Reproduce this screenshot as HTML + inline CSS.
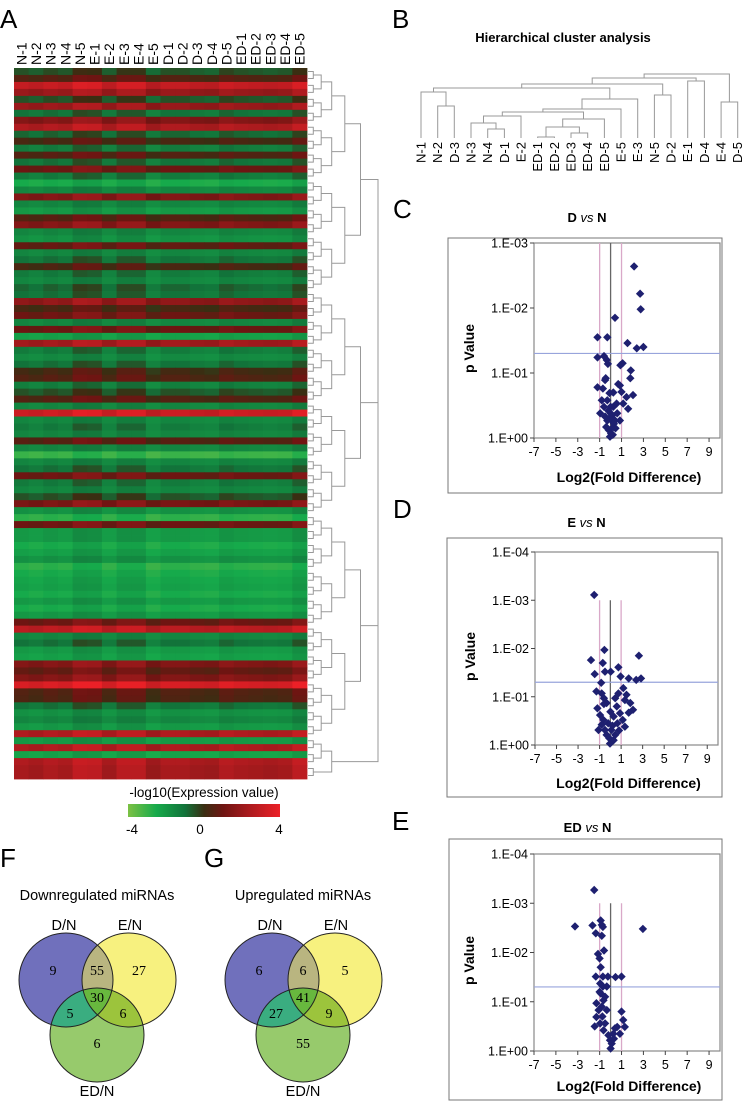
<!DOCTYPE html>
<html><head><meta charset="utf-8"><style>
html,body{margin:0;padding:0;background:#fff}
svg{display:block;font-family:"Liberation Sans",sans-serif}
.ser{font-family:"Liberation Serif",serif}
</style></head><body>
<svg id="fig" width="743" height="1112" viewBox="0 0 743 1112">
<g id="heat"></g>
<g id="hdendro" stroke="#999" stroke-width="1" fill="none"></g>
<g id="bdendro" stroke="#999" stroke-width="1" fill="none"></g>
<g id="volc"></g>
<g id="venn"></g>
</svg>
<script>
const NS="http://www.w3.org/2000/svg";
function mk(p,t,a,txt){const e=document.createElementNS(NS,t);for(const k in a)e.setAttribute(k,a[k]);if(txt!==undefined)e.textContent=txt;p.appendChild(e);return e;}

// ---------- DATA ----------
const samples=["N-1","N-2","N-3","N-4","N-5","E-1","E-2","E-3","E-4","E-5","D-1","D-2","D-3","D-4","D-5","ED-1","ED-2","ED-3","ED-4","ED-5"];
const colOffsets=[0,-0.2,0.1,-0.1,0.6,0.5,-0.2,0.4,0.4,-0.4,0,0,-0.2,-0.3,0.2,0,-0.1,-0.2,-0.1,0.5];
const rowValues=[-0.5,0.5,3,2,-0.5,2,-1,1.5,2.5,-0.8,0.3,-1.2,0.5,-1,1,-1.2,-2.5,-1.5,1.5,-1.5,-2,0.5,1.5,-1.5,-1.8,0.8,-1.5,-1,0.3,-1.2,-1.5,-0.8,-1,1.8,0.3,1,-1.5,1,-2.2,2.2,-1.2,-1.6,-1,0.2,0.5,-1.3,-0.5,0.5,-1.5,3.2,-1.5,-1.2,-1.5,0.6,-1.5,-3,-1.5,-1,1,-1.2,-1.5,-0.5,1.3,-1.8,-2.8,1,-2,-2,-2.5,-2.2,-1.8,-2.8,-2.5,-2.3,-2.2,-2.5,-2,-2.5,-2,1,2.8,-1.5,-1,-2,-2.2,1.5,0.8,1.5,3.5,0.5,0.4,-1,-1.8,-1.5,-2,2.5,-2,2.5,-2.3,2.5,2.3,2.3];

const clusterLeaves=["N-1","N-2","D-3","N-3","N-4","D-1","E-2","ED-1","ED-2","ED-3","ED-4","ED-5","E-5","E-3","N-5","D-2","E-1","D-4","E-4","D-5"];
const clusterMerges=[[1,2,106],[0,20,92],[4,5,129],[3,22,123],[23,6,116],[7,8,137],[9,10,133],[25,26,127],[27,11,119],[24,28,112],[29,12,109],[30,13,99],[21,31,88],[14,15,95],[32,33,84],[16,17,81],[34,35,78],[18,19,102],[36,37,74]];

const volcC_x=[2.15,2.7,2.75,0.4,-1.2,-0.3,1.55,2.4,3.0,-1.2,-0.6,-0.35,-0.25,1.1,0.9,1.85,1.8,-1.2,-0.7,-0.5,-0.45,0.25,0.7,0.85,1.0,1.45,2.05,1.6,-0.1,-0.3,0.25,0.55,-0.95,-0.6,0,0.1,0.6,0.85,-0.3,-0.15,0.05,-0.05,0.25,-0.4,0.4,1.15,-0.8,0,-0.2,0.15,0.3,-0.1,0.45,-0.5,0.2];
const volcC_v=[2.64,2.22,1.98,1.85,1.55,1.55,1.46,1.38,1.40,1.24,1.26,1.2,1.14,1.15,1.12,1.04,0.92,0.78,0.76,0.89,0.92,0.70,0.83,0.81,0.71,0.63,0.66,0.45,0.69,0.58,0.48,0.53,0.38,0.48,0.38,0.27,0.38,0.27,0.27,0.12,0.07,0.02,0.17,0.17,0.27,0.53,0.58,0.48,0.42,0.35,0.22,0.30,0.15,0.33,0.05];
const volcD_x=[-1.5,-0.55,-1.8,-0.7,-1.45,-0.5,0.03,0.75,0.95,1.7,2.65,2.4,2.85,-0.85,-1.3,-0.8,-0.6,-0.35,0.45,0.75,1.2,1.5,1.35,1.85,2.1,1.7,-1.2,-0.95,-0.65,-0.8,-0.5,0,0.3,0.6,0.9,1.15,0.65,1.35,0.1,0.45,-0.1,-0.03,-0.35,0.3,-1.1,-0.2,0.2,0.8,-0.6];
const volcD_v=[3.11,1.97,1.76,1.70,1.47,1.52,1.52,1.61,1.42,1.38,1.85,1.35,1.38,1.29,1.11,1.07,0.97,0.87,0.97,1.07,1.18,1.04,0.93,0.87,0.73,0.67,0.76,0.62,0.52,0.42,0.31,0.69,0.59,0.8,0.66,0.52,0.45,0.38,0.31,0.21,0.14,0.03,0.21,0.10,0.31,0.45,0.40,0.30,0.85];
const volcE_x=[-1.5,-3.25,-1.65,-0.9,-0.8,-0.7,-1.35,-0.8,2.95,-1.15,-0.6,-1.0,-0.9,-1.35,-0.7,-0.25,0.45,1.0,-0.95,-0.7,-0.35,-0.9,-0.5,-1.3,-0.8,-0.35,-1.3,-0.95,-1.45,-0.5,1.0,1.15,1.3,0.6,0.85,0.25,-0.05,0,-0.2,-0.65,0.4,-1.1,-0.65,-1.0,-0.75,0.1,0.3];
const volcE_v=[3.27,2.53,2.55,2.65,2.56,2.52,2.39,2.34,2.48,1.97,2.04,1.88,1.70,1.51,1.51,1.51,1.50,1.51,1.37,1.31,1.31,1.17,1.10,0.97,0.90,0.83,0.69,0.56,0.50,0.56,0.80,0.63,0.49,0.49,0.35,0.35,0.22,0.05,0.32,0.42,0.46,0.83,1.03,1.2,0.7,0.15,0.25];

const vennF=["9","55","27","30","5","6","6"];
const vennG=["6","6","5","41","27","9","55"];

const svg=document.getElementById('fig');

const cStops=[[-4,[124,193,68]],[-2.5,[22,170,75]],[-1,[18,115,58]],[0,[58,46,18]],[1,[110,21,18]],[2.5,[176,27,31]],[4,[236,32,39]]];
function col(v){v=Math.max(-4,Math.min(4,v));for(let i=0;i<cStops.length-1;i++){const a=cStops[i],b=cStops[i+1];if(v<=b[0]){const t=(v-a[0])/(b[0]-a[0]);return "rgb("+a[1].map((c,j)=>Math.round(c+(b[1][j]-c)*t)).join(",")+")";}}return "rgb(236,32,39)";}

function txt(x,y,s,size,opt,name){const e=mk(svg,'text',Object.assign({x:x,y:y,'font-size':size,fill:'#000'},opt||{}),s);return e;}
txt(0,28,"A",26,{},"panel-label-a");
txt(392,28,"B",26,{},"panel-label-b");
txt(393,218,"C",26,{},"panel-label-c");
txt(393,518,"D",26,{},"panel-label-d");
txt(392,830,"E",26,{},"panel-label-e");
txt(0,867,"F",26,{},"panel-label-f");
txt(204,867,"G",26,{},"panel-label-g");

// ---------- heatmap ----------
const heat=document.getElementById('heat');
const hx0=14,hx1=307,hy0=68,hy1=779;
const cw=(hx1-hx0)/samples.length, rh=(hy1-hy0)/rowValues.length;
rowValues.forEach((rv,r)=>{samples.forEach((s,c)=>{
  const e=mk(heat,'rect',{x:(hx0+c*cw).toFixed(2),y:(hy0+r*rh).toFixed(2),width:(cw+0.4).toFixed(2),height:(rh+0.4).toFixed(2),fill:col(rv+colOffsets[c]*(rv>-1.5?1:0.6))});
  
  
});});
samples.forEach((s,c)=>{const x=hx0+(c+0.5)*cw+5;const e=mk(heat,'text',{x:0,y:0,transform:`translate(${x.toFixed(1)},65) rotate(-90)`,'font-size':14,fill:'#000'},s);
  
  });
const defs=mk(svg,'defs',{});
const lg=mk(defs,'linearGradient',{id:'cb',x1:0,x2:1,y1:0,y2:0});
for(let v=-4;v<=4;v+=0.5)mk(lg,'stop',{offset:((v+4)/8),'stop-color':col(v)});
const cbar=mk(heat,'rect',{x:128,y:804,width:152,height:13,fill:'url(#cb)'});

txt(204,797,"-log10(Expression value)",13.5,{'text-anchor':'middle'},"color-scale-title");
txt(132,834,"-4",13.5,{'text-anchor':'middle'},"color-scale-min");
txt(200,834,"0",13.5,{'text-anchor':'middle'},"color-scale-mid");
txt(279,834,"4",13.5,{'text-anchor':'middle'},"color-scale-max");

const hd=document.getElementById('hdendro');
let nodes=rowValues.map((v,i)=>({y:hy0+(i+0.5)*rh,x:308}));
let level=0;
while(nodes.length>1){level++;const nx=308+Math.min(70,level*level*1.3+level*4);const next=[];
  for(let i=0;i<nodes.length;i+=2){if(i+1<nodes.length){const a=nodes[i],b=nodes[i+1];
    const p=mk(hd,'path',{d:`M${a.x},${a.y.toFixed(1)}H${nx}V${b.y.toFixed(1)}H${b.x}`});
    
    next.push({y:(a.y+b.y)/2,x:nx});}else next.push(nodes[i]);}
  nodes=next;}

// ---------- cluster dendrogram B ----------
txt(563,42,"Hierarchical cluster analysis",13,{'text-anchor':'middle','font-weight':'bold'},"cluster-title");
const bd=document.getElementById('bdendro');
const bx0=421,bdx=16.67,leafY=138;
const bx=i=>bx0+i*bdx;
const bnodes=clusterLeaves.map((s,i)=>({x:bx(i),y:leafY}));
clusterLeaves.forEach((s,i)=>{const e=mk(svg,'text',{x:0,y:0,transform:`translate(${(bx(i)+4.5).toFixed(1)},142) rotate(-90)`,'font-size':13,'text-anchor':'end',fill:'#000'},s);
  
  });
clusterMerges.forEach(m=>{const a=bnodes[m[0]],b=bnodes[m[1]],h=m[2];
  const p=mk(bd,'path',{d:`M${a.x.toFixed(1)},${a.y}V${h}H${b.x.toFixed(1)}V${b.y}`});
  
  bnodes.push({x:(a.x+b.x)/2,y:h});});

// ---------- volcano plots ----------
const volc=document.getElementById('volc');
function volcano(cfg){
  const g=mk(volc,'g',{});
  const box=mk(g,'rect',{x:cfg.box[0],y:cfg.box[1],width:cfg.box[2]-cfg.box[0],height:cfg.box[3]-cfg.box[1],fill:'#fff',stroke:'#777','stroke-width':1});
  
  const X=v=>cfg.px0+(v+7)*(cfg.px1-cfg.px0)/17;
  const Y=v=>cfg.py1-v*(cfg.py1-cfg.py0)/cfg.dec;
  const t=mk(g,'text',{x:(cfg.box[0]+cfg.box[2])/2+2,y:cfg.titleY,'font-size':13,'font-weight':'bold','text-anchor':'middle'});
  
  mk(t,'tspan',{},cfg.title[0]+" ");mk(t,'tspan',{'font-style':'italic','font-weight':'normal'},"vs");mk(t,'tspan',{}," N");
  const pa=mk(g,'rect',{x:cfg.px0,y:cfg.py0,width:cfg.px1-cfg.px0,height:cfg.py1-cfg.py0,fill:'none',stroke:'#888','stroke-width':1.2});
  
  const vt=Y(cfg.vlineTop);
  [[-1,'#d9a8c8'],[1,'#d9a8c8'],[0,'#666']].forEach(l=>{const e=mk(g,'line',{x1:X(l[0]),x2:X(l[0]),y1:vt,y2:cfg.py1,stroke:l[1],'stroke-width':1.3});
    });
  const hl=mk(g,'line',{x1:cfg.px0,x2:cfg.px1,y1:Y(1.301),y2:Y(1.301),stroke:'#98a4dc','stroke-width':1.2});
  
  for(let d=0;d<=cfg.dec;d++){const y=Y(d);
    mk(g,'line',{x1:cfg.px0-4,x2:cfg.px0,y1:y,y2:y,stroke:'#444'});
    const e=mk(g,'text',{x:cfg.px0-6,y:y+4.5,'font-size':12.5,'text-anchor':'end'},"1.E"+(d===0?"+00":"-0"+d));
    }
  for(let v=-7;v<=9;v+=2){const x=X(v);
    mk(g,'line',{x1:x,x2:x,y1:cfg.py1,y2:cfg.py1+4,stroke:'#444'});
    const e=mk(g,'text',{x:x,y:cfg.py1+18,'font-size':12.5,'text-anchor':'middle'},String(v));
    }
  const xl=mk(g,'text',{x:(cfg.px0+cfg.px1)/2+2,y:cfg.xlabY,'font-size':14,'font-weight':'bold','text-anchor':'middle'},"Log2(Fold Difference)");
  
  const yl=mk(g,'text',{x:0,y:0,transform:`translate(${cfg.px0-60},${(cfg.py0+cfg.py1)/2+8}) rotate(-90)`,'font-size':14,'font-weight':'bold','text-anchor':'middle'},"p Value");
  
  cfg.xs.forEach((xv,i)=>{const cx=X(xv),cy=Y(cfg.vs[i]);
    const p=mk(g,'path',{d:`M${cx.toFixed(1)},${(cy-4.2).toFixed(1)}l4.2,4.2l-4.2,4.2l-4.2,-4.2z`,fill:'#1e2070'});
    });
}
volcano({name:'volcano-d-vs-n',title:["D"],box:[448,238,722,493],px0:534,px1:720,py0:243,py1:438,dec:3,vlineTop:3,titleY:222,xlabY:482,xs:volcC_x,vs:volcC_v});
volcano({name:'volcano-e-vs-n',title:["E"],box:[447,538,722,797],px0:535,px1:718,py0:552,py1:745,dec:4,vlineTop:3,titleY:527,xlabY:788,xs:volcD_x,vs:volcD_v});
volcano({name:'volcano-ed-vs-n',title:["ED"],box:[449,839,722,1100],px0:534,px1:720,py0:854,py1:1051,dec:4,vlineTop:3,titleY:832,xlabY:1091,xs:volcE_x,vs:volcE_v});

// ---------- Venn diagrams ----------
const venn=document.getElementById('venn');
function vennDiagram(id,cx,title,labels,name){
  const g=mk(venn,'g',{});
  const r=47,D=[cx-31,980],E=[cx+32,980],F=[cx,1035];
  const t=mk(g,'text',{x:cx,y:900,'font-size':14.5,'text-anchor':'middle'},title);
  const cd=mk(defs,'clipPath',{id:id+'d'});mk(cd,'circle',{cx:D[0],cy:D[1],r:r});
  const ce=mk(defs,'clipPath',{id:id+'e'});mk(ce,'circle',{cx:E[0],cy:E[1],r:r});
  const c1=mk(g,'circle',{cx:D[0],cy:D[1],r:r,fill:'#7070bc'});
  const c2=mk(g,'circle',{cx:E[0],cy:E[1],r:r,fill:'#f7f17f'});
  const c3=mk(g,'circle',{cx:F[0],cy:F[1],r:r,fill:'#97ca6c'});
  const gde=mk(g,'g',{'clip-path':`url(#${id}d)`});mk(gde,'circle',{cx:E[0],cy:E[1],r:r,fill:'#b9b580'});
  const gdf=mk(g,'g',{'clip-path':`url(#${id}d)`});mk(gdf,'circle',{cx:F[0],cy:F[1],r:r,fill:'#3aad80'});
  const gef=mk(g,'g',{'clip-path':`url(#${id}e)`});mk(gef,'circle',{cx:F[0],cy:F[1],r:r,fill:'#9cc43c'});
  const gall=mk(g,'g',{'clip-path':`url(#${id}d)`});const gin=mk(gall,'g',{'clip-path':`url(#${id}e)`});mk(gin,'circle',{cx:F[0],cy:F[1],r:r,fill:'#68b83e'});
  [D,E,F].forEach(c=>mk(g,'circle',{cx:c[0],cy:c[1],r:r,fill:'none',stroke:'#222','stroke-width':1}));
  const pos=[[cx-44,975],[cx,975],[cx+42,975],[cx,1002],[cx-27,1018],[cx+26,1018],[cx,1048]];
  labels.forEach((s,i)=>{const e=mk(g,'text',{x:pos[i][0],y:pos[i][1],'font-size':14,'text-anchor':'middle','class':'ser'},s);
    });
  [["D/N",cx-33,930],["E/N",cx+33,930],["ED/N",cx,1096]].forEach(l=>{const e=mk(g,'text',{x:l[1],y:l[2],'font-size':14.5,'text-anchor':'middle'},l[0]);
    });
}
vennDiagram('vf',97,"Downregulated miRNAs",vennF,'venn-downregulated');
vennDiagram('vg',303,"Upregulated miRNAs",vennG,'venn-upregulated');
</script>
</body></html>
